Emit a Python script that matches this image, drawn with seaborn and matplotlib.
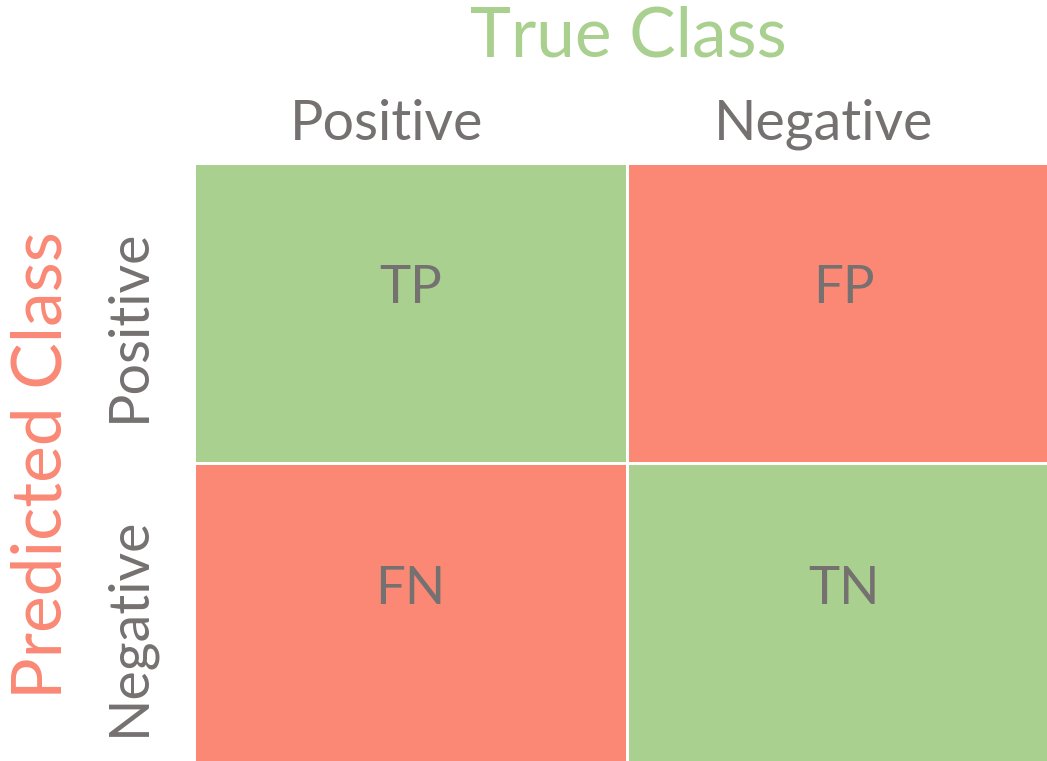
import matplotlib
matplotlib.use("Agg")
import matplotlib.pyplot as plt
import matplotlib.transforms as mtransforms
import seaborn as sns
import numpy as np
from matplotlib.colors import ListedColormap

sns.set_theme(style="white")
plt.rcParams['font.family'] = ['Lato', 'DejaVu Sans']

true_classes = ["Positive", "Negative"]
pred_classes = ["Positive", "Negative"]
correct = [[1, 0], [0, 1]]
cell_labels = [["TP", "FP"], ["FN", "TN"]]
x_title = "True Class"
y_title = "Predicted Class"

green = "#A9D08E"
red = "#FA8875"
grey = "#767171"

W, H = 1047, 761
fig = plt.figure(figsize=(W/100, H/100), dpi=100)
lw_px = 3.0
left_px, right_px = 193.5, 1060.5
top_px, bottom_px = 162.5, 763.5
ax = fig.add_axes([left_px/W, 1 - bottom_px/H, (right_px - left_px)/W, (bottom_px - top_px)/H])
sns.heatmap(np.array(correct), cmap=ListedColormap([red, green]), cbar=False,
            annot=np.array(cell_labels), fmt="", linewidths=lw_px*0.72, linecolor="white",
            annot_kws={"fontsize": 38, "color": grey},
            xticklabels=true_classes, yticklabels=pred_classes, ax=ax)
ax.xaxis.tick_top()
ax.tick_params(axis="x", length=0, pad=9, labelsize=40, labelcolor=grey)
ax.tick_params(axis="y", length=0, pad=28, labelsize=40, labelcolor=grey)
plt.setp(ax.get_yticklabels(), rotation=90, va="center")
plt.setp(ax.get_xticklabels(), rotation=0)
for s in ax.spines.values():
    s.set_visible(False)

# nudge annotations and tick labels as in the reference
for txt in ax.texts:
    txt.set_transform(mtransforms.offset_copy(txt.get_transform(), fig=fig, x=0, y=24, units="dots"))
for lab, dx in zip(ax.get_xticklabels(), [-24, -20]):
    lab.set_transform(mtransforms.offset_copy(lab.get_transform(), fig=fig, x=dx, y=0, units="dots"))
for lab in ax.get_yticklabels():
    lab.set_transform(mtransforms.offset_copy(lab.get_transform(), fig=fig, x=0, y=-13, units="dots"))

fig.text(628/W, 1 - 37/H, x_title, color=green, fontsize=50, ha="center", va="center")
fig.text(42/W, 1 - 465/H, y_title, color=red, fontsize=50, ha="center", va="center", rotation=90)

fig.savefig("out.png", dpi=100)
